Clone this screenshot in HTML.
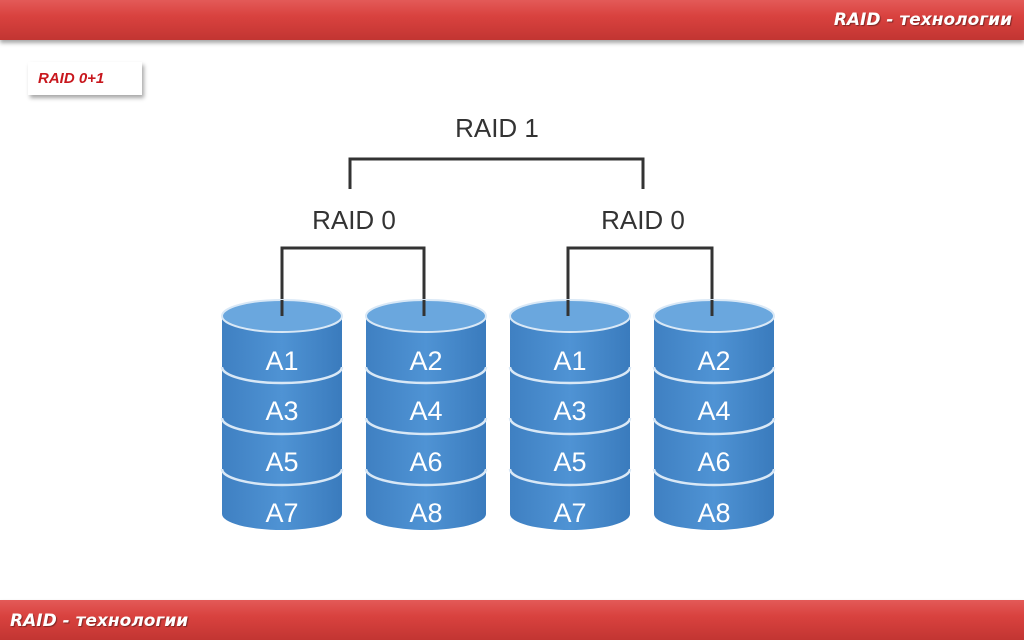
<!DOCTYPE html>
<html><head><meta charset="utf-8"><style>
html,body{margin:0;padding:0;width:1024px;height:640px;background:#fff;overflow:hidden;font-family:"Liberation Sans",sans-serif}
.bar{position:absolute;left:0;width:1024px;height:40px;background:linear-gradient(#e35a58 0%,#d9423f 40%,#c23532 100%);box-shadow:0 3px 4px rgba(0,0,0,.35)}
.bar span{position:absolute;color:#fff;font-weight:bold;font-style:italic;font-size:17px;font-family:"DejaVu Sans","Liberation Sans",sans-serif;text-shadow:1px 1px 1px rgba(0,0,0,.4)}
.lbl{position:absolute;left:28px;top:62px;width:114px;height:33px;background:#fff;box-shadow:2px 3px 4px rgba(0,0,0,.35);color:#c8171d;font-style:italic;font-weight:bold;font-size:15px;line-height:33px;text-indent:10px}
</style></head><body>
<div class="bar" style="top:0"><span style="right:12px;top:10px">RAID - технологии</span></div>
<div class="lbl">RAID 0+1</div>
<svg style="position:absolute;left:0;top:0" width="1024" height="640">
<defs>
<linearGradient id="g" x1="0" x2="1"><stop offset="0" stop-color="#3f80c2"/><stop offset=".5" stop-color="#4f93d4"/><stop offset="1" stop-color="#3a7bbd"/></linearGradient>
</defs>
<g fill="none" stroke="#333" stroke-width="3">
<path d="M350 189V159H643V189"/>
<path d="M282 313V248H424V313"/>
<path d="M568 313V248H712V313"/>
</g>
<g font-size="26" fill="#333" text-anchor="middle">
<text x="497" y="137">RAID 1</text>
<text x="354" y="229">RAID 0</text>
<text x="643" y="229">RAID 0</text>
</g>
<g id="c">
<path d="M222 316V514A60 16 0 0 0 342 514V316Z" fill="url(#g)"/>
<g fill="none" stroke="#d9e8f6" stroke-width="2.5">
<path d="M222 367A60 16 0 0 0 342 367"/>
<path d="M222 418A60 16 0 0 0 342 418"/>
<path d="M222 469A60 16 0 0 0 342 469"/>
</g>
<ellipse cx="282" cy="316" rx="60" ry="16" fill="#6aa7de" stroke="#d9e8f6" stroke-width="2"/>
</g>
<use href="#c" x="144"/><use href="#c" x="288"/><use href="#c" x="432"/>
<path d="M282 313V316" stroke="#333" stroke-width="3"/>
<g stroke="#333" stroke-width="3"><path d="M282 300V316M424 300V316M568 300V316M712 300V316"/></g>
<g font-size="27" fill="#fff" text-anchor="middle">
<text x="282" y="370">A1</text><text x="282" y="420">A3</text><text x="282" y="471">A5</text><text x="282" y="522">A7</text>
<text x="426" y="370">A2</text><text x="426" y="420">A4</text><text x="426" y="471">A6</text><text x="426" y="522">A8</text>
<text x="570" y="370">A1</text><text x="570" y="420">A3</text><text x="570" y="471">A5</text><text x="570" y="522">A7</text>
<text x="714" y="370">A2</text><text x="714" y="420">A4</text><text x="714" y="471">A6</text><text x="714" y="522">A8</text>
</g>
</svg>
<div class="bar" style="top:600px"><span style="left:10px;top:11px">RAID - технологии</span></div>
</body></html>
